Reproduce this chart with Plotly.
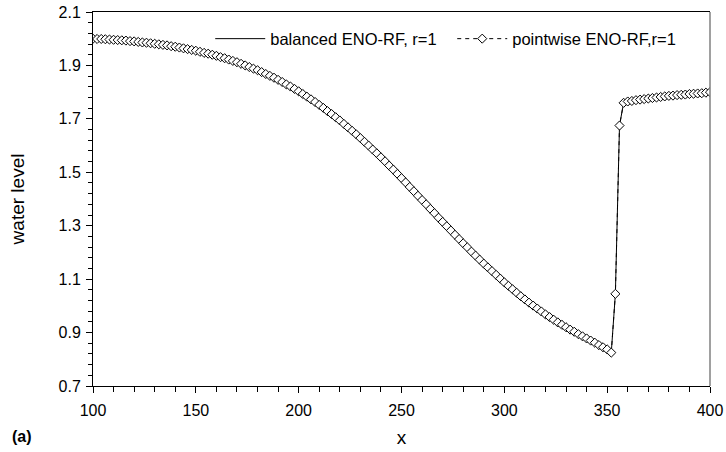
import plotly.graph_objects as go

x_vals = list(range(100, 401, 2))

water_level = [
    2.000, 1.999, 1.999, 1.998, 1.997, 1.996, 1.995, 1.994, 1.993, 1.991,
    1.990, 1.988, 1.986, 1.985, 1.983, 1.981, 1.979, 1.977, 1.975, 1.972,
    1.970, 1.967, 1.964, 1.961, 1.958, 1.955, 1.951, 1.947, 1.944, 1.940,
    1.936, 1.931, 1.927, 1.922, 1.917, 1.912, 1.906, 1.900, 1.894, 1.888,
    1.882, 1.875, 1.868, 1.861, 1.854, 1.846, 1.838, 1.829, 1.821, 1.812,
    1.803, 1.793, 1.783, 1.773, 1.763, 1.752, 1.741, 1.729, 1.718, 1.706,
    1.694, 1.681, 1.668, 1.655, 1.642, 1.628, 1.614, 1.600, 1.585, 1.571,
    1.556, 1.541, 1.525, 1.510, 1.494, 1.478, 1.462, 1.445, 1.429, 1.412,
    1.396, 1.380, 1.363, 1.347, 1.330, 1.314, 1.298, 1.282, 1.266, 1.250,
    1.234, 1.219, 1.203, 1.188, 1.173, 1.158, 1.144, 1.130, 1.116, 1.102,
    1.088, 1.075, 1.062, 1.049, 1.036, 1.024, 1.012, 1.001, 0.990, 0.979,
    0.968, 0.958, 0.948, 0.938, 0.929, 0.920, 0.911, 0.903, 0.894, 0.886,
    0.878, 0.870, 0.862, 0.853, 0.845, 0.837, 0.825, 1.045, 1.675, 1.760,
    1.765, 1.767, 1.770, 1.772, 1.774, 1.776, 1.778, 1.780, 1.782, 1.784,
    1.786, 1.787, 1.789, 1.790, 1.791, 1.793, 1.794, 1.795, 1.796, 1.798,
    1.800,
]

balanced_name = "balanced ENO-RF, r=1"
pointwise_name = "pointwise ENO-RF,r=1"

FONT = "Liberation Sans, Arial, Helvetica, sans-serif"

fig = go.Figure()
fig.add_trace(go.Scatter(
    x=x_vals, y=water_level, name=balanced_name, mode="lines",
    line=dict(color="black", width=1),
))
fig.add_trace(go.Scatter(
    x=x_vals, y=water_level, name=pointwise_name, mode="lines+markers",
    line=dict(color="black", width=1, dash="4px,4px"),
    marker=dict(symbol="diamond", size=7, color="white",
                line=dict(color="black", width=1)),
))

fig.update_layout(
    width=726, height=452,
    margin=dict(l=93, r=16, t=12, b=66),
    paper_bgcolor="white", plot_bgcolor="white",
    font=dict(family=FONT, size=16, color="black"),
    showlegend=True,
    legend=dict(orientation="h", x=0.19, y=0.928, xanchor="left", yanchor="middle",
                bgcolor="rgba(0,0,0,0)", font=dict(size=16.5), itemwidth=50,
                entrywidth=177, traceorder="normal"),
    xaxis=dict(
        range=[100, 400], tick0=100, dtick=50, showgrid=False, zeroline=False,
        showline=True, linecolor="black", linewidth=1, mirror=True,
        ticks="outside", ticklen=6, tickcolor="black",
        minor=dict(dtick=10, tick0=100, ticks="outside", ticklen=5, tickcolor="black"),
        title=dict(text="x", standoff=12),
        ticklabelstandoff=4, automargin=False,
    ),
    yaxis=dict(
        range=[0.7, 2.1], tick0=0.7, dtick=0.2, tickformat=".1f", showgrid=False,
        zeroline=False, showline=True, linecolor="black", linewidth=1,
        ticks="outside", ticklen=6, tickcolor="black",
        minor=dict(dtick=0.04, tick0=0.7, ticks="outside", ticklen=4, tickcolor="black"),
        title=dict(text="water level", standoff=28),
        ticklabelstandoff=2, automargin=False,
    ),
    shapes=[dict(type="line", xref="paper", yref="paper", x0=1, x1=1, y0=0, y1=1,
                 line=dict(color="#808080", width=1.5))],
    annotations=[dict(text="<b>(a)</b>", xref="paper", yref="paper", x=-0.115, y=-0.136,
                      xanchor="center", yanchor="middle", showarrow=False,
                      font=dict(size=16))],
)

fig.write_html("out.html")
